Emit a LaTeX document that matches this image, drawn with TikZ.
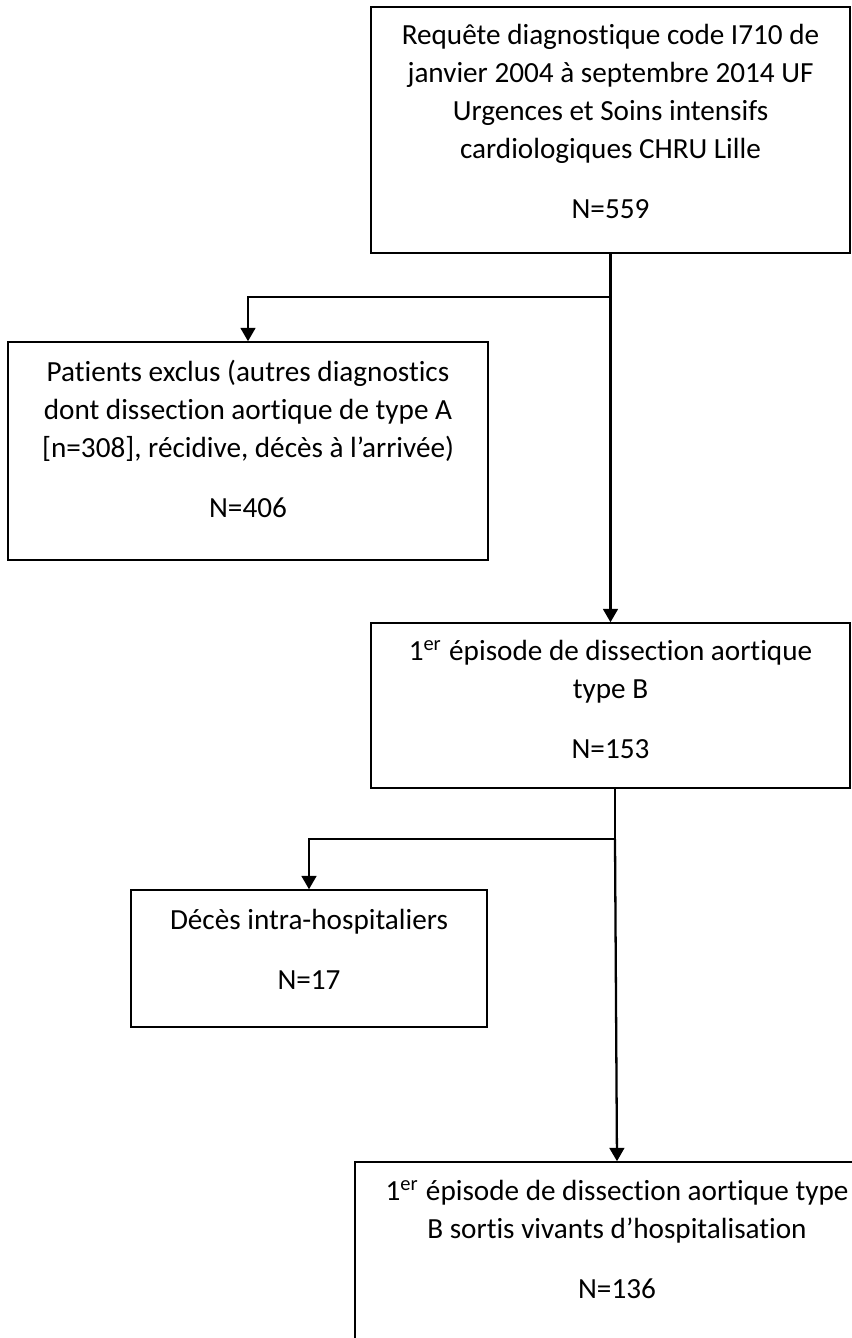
\documentclass[tikz,border=0pt]{standalone}
\usepackage{fontspec}
\setmainfont{Carlito}[Ligatures=NoCommon]
\usepackage{tikz}
\usetikzlibrary{arrows.meta,positioning,calc}

% extra depth under the last line, to lift the text inside its box
\newcommand{\padbelow}[1]{\rule[-#1]{0pt}{0pt}}

\tikzset{
	box/.style={draw, rectangle, line width=0.4pt, align=center, inner sep=0pt, font=\fontsize{8.3}{10.8}\selectfont},
	link/.style={line width=0.65pt},
	arrow/.style={link, -{Triangle[length=3.8pt, width=4.2pt]}}
}

\begin{document}
\begin{tikzpicture}[x=0.01cm, y=-0.01cm]
		\path[use as bounding box, clip] (0,0) rectangle (852,1338);

		\node[box, minimum width=4.79cm, minimum height=2.46cm] (req) at (610.5, 130) {Requête diagnostique code I710 de\\janvier 2004 à septembre 2014 UF\\Urgences et Soins intensifs\\cardiologiques CHRU Lille\\[6.3pt]N=559\padbelow{5pt}};
		\node[box, minimum width=4.80cm, minimum height=2.18cm] (excl) at (248, 451) {Patients exclus (autres diagnostics\\dont dissection aortique de type A\\{[n=308]}, récidive, décès à l’arrivée)\\[6.3pt]N=406\padbelow{6.8pt}};
		\node[box, minimum width=4.79cm, minimum height=1.65cm] (epi) at (610.5, 705.5) {1\textsuperscript{er} épisode de dissection aortique\\type B\\[6.3pt]N=153\padbelow{3.4pt}};
		\node[box, minimum width=3.56cm, minimum height=1.37cm] (deces) at (309, 958.5) {Décès intra-hospitaliers\\[6.3pt]N=17\padbelow{5pt}};
		\node[box, minimum width=5.24cm, minimum height=1.83cm] (sortis) at (617, 1253.5) {1\textsuperscript{er} épisode de dissection aortique type\\B sortis vivants d’hospitalisation\\[6.3pt]N=136\padbelow{8pt}};

		\coordinate (j1) at (610.5, 297);
		\coordinate (j2) at (615, 839);

		\draw[link] (req.south) -- (j1);
		\draw[arrow] (j1) -| (excl.north);
		\draw[arrow] (j1) -- (epi.north);
		\draw[link] (epi.south -| j2) -- (j2);
		\draw[arrow] (j2) -| (deces.north);
		\draw[arrow] (j2) -- (sortis.north);
\end{tikzpicture}
\end{document}
